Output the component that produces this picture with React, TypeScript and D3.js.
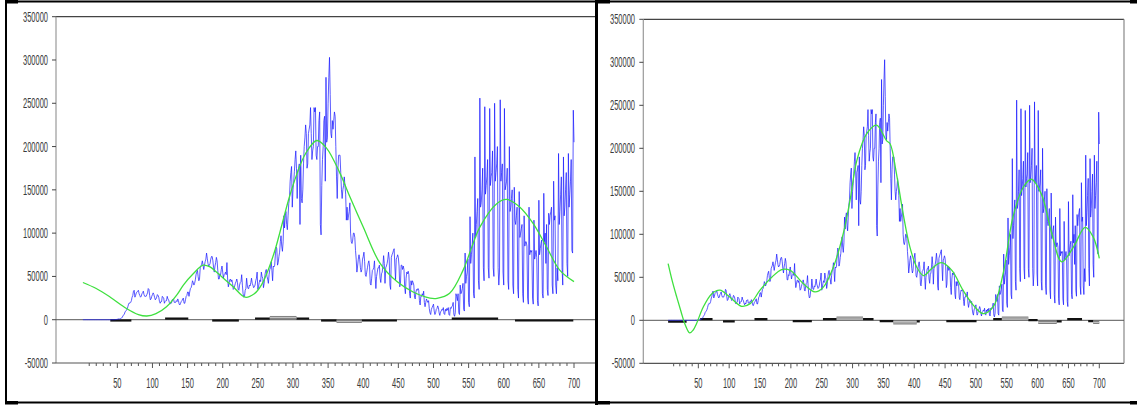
import React from "react";
import * as d3 from "d3";

// ---------- DATA (daily values in thousands, day 1 = first observation) ----------
const casesJanFeb2020 = new Array(39).fill(0);
const casesMar2020 = [0,0,0,0,0,0.1,0.1,0.1,0.2,0.3, 0.5,0.6,1.0,0.8,1.0,1.5,1.9,2.8,4.4,5.5, 6.5,9,10,11,12.5,15,18,19.5,19,20,22];
const casesApr2020 = [26,28,33,34,26,28,31,32,33,34, 30,28,26,27,30,31,33,29,27,27, 27,29,31,36,35,28,23,24,27,29];
const casesMay2020 = [31,29,26,23,24,26,29,28,26,21, 19,21,21,27,26,25,19,21,22,22, 27,24,23,20,18,20,19,23,23,24,20];
const casesJun2020 = [20,20,22,21,24,22,18,17,19,21, 22,24,25,19,19,23,27,28,32,32, 27,32,36,37,40,45,43,40,42,46];
const casesJul2020 = [52,55,57,50,45,47,60,62,64,68, 63,58,63,67,70,77,71,65,62,63, 65,70,73,73,68,60,55,62,66,72,68];
const casesAug2020 = [57,47,47,53,52,58,62,55,48,52, 53,55,52,66,47,38,42,46,47,44, 46,42,35,36,39,42,44,47,43,35,34];
const casesSep2020 = [40,43,44,52,40,30,26,27,34,36, 48,40,36,36,40,39,43,48,42,40, 37,38,40,45,48,55,35,38,43,46];
const casesOct2020 = [44,55,50,48,37,42,51,56,58,50, 47,42,52,58,60,67,57,45,62,61, 63,76,84,82,63,66,73,78,90,97,85];
const casesNov2020 = [79,90,120,106,120,125,110,104,120,134, 140,160,170,177,130,150,159,171,185,195, 175,140,172,175,180,110,190,140,135,150];
const casesDec2020 = [180,200,210,225,215,175,180,215,220,225, 245,215,185,195,200,245,240,245,190,185, 200,200,230,240,110,98,155,185,200,230,235];
const casesJan2021 = [160,280,205,210,250,280,303,260,215,210, 230,220,230,240,235,200,165,140,175,190, 190,190,170,150,140,150,155,165,155,145,115];
const casesFeb2021 = [130,115,120,125,135,100,90,88,92,100, 100,95,80,70,55,62,70,75,70,60, 55,58,70,73,78,67,52,50];
const casesMar2021 = [55,60,65,68,62,42,40,48,57,58, 60,68,50,36,50,55,60,60,63,48, 43,53,55,62,74,65,42,60,62,65,70];
const casesApr2021 = [78,70,40,35,72,75,77,80,82,62, 46,70,72,75,72,62,38,42,63,63, 58,62,58,38,30,48,55,53,56,52];
const casesMay2021 = [30,25,45,40,45,43,40,26,24,32, 35,34,36,34,22,17,27,27,30,28, 33,20,15,20,24,22,20,22,13,8,6];
const casesJun2021 = [12,14,16,18,10,6,8,12,13,16, 14,8,5,9,10,12,11,14,7,6, 12,10,13,11,14,6,5,14,13,15];
const casesJul2021 = [16,20,6,4,8,30,27,22,30,8, 6,40,30,32,36,42,12,10,77,42, 50,55,70,20,15,119,65,75,85,100,30];
const casesAug2021 = [25,188,95,110,125,140,45,35,256,130, 135,150,175,60,45,246,145,155,165,185, 60,48,244,155,165,170,195,60,50,250,160];
const casesSep2021 = [170,180,200,60,40,55,254,160,170,180, 55,40,244,150,155,160,175,45,35,200, 125,130,140,150,40,30,153,115,110,120];
const casesOct2021 = [130,35,25,148,95,100,105,110,30,20, 120,85,90,90,85,25,18,130,75,80, 78,80,25,18,115,70,75,80,72,22,16];
const casesNov2021 = [138,75,82,88,92,30,25,146,90,100, 65,110,35,28,123,110,120,125,130,40, 30,160,115,120,40,30,60,45,192,110];
const casesDec2021 = [125,145,165,60,40,188,120,130,150,170, 65,50,192,130,145,160,185,80,77,242,205];

// smooth fitted curves (control points), values in thousands
const fitLeftDays = [1,20,40,63,80,92,105,120,135,144,158,172,182,191,205,215,232,245,255,265,275,285,295,305,318,334,348,367,381,400,424,448,471,495,505,523,542,555,566,590,604,623,642,661,680,700];
const fitLeftValues = [43,36,26,13,6,4.3,7,15,29,40,53,63,61,55,45,38,26,30,40,58,82,112,142,167,192,207,198,169,142,107,65,44,32,25,24.7,30.5,57,85,107,134,139,130,111,84,57,44];
const fitRightDays = [1,8,15,22,28,36,42,47,58,72,85,101,120,134,150,169,185,199,220,239,252,269,285,296,307,323,339,355,361,371,382,393,404,415,428,444,461,479,496,512,528,544,560,577,590,606,623,639,658,677,690,700];
const fitRightValues = [66,45,27,10,-4,-14.7,-11,-4,15.5,31,35,27,16.3,19.4,35,50,59,58,42.7,33,38,62,101,140,186,217,227,209,205,171,124,85,62,52,60,67,58,35,17.4,7.8,15.5,54,120,155,164,147,101,68,85,108,97,72];

// residual series, as [fromDay, toDay, value in thousands]
const residLeftDark = [[40,70,-0.9],[118,151,1.3],[185,223,-0.9],[246,267,1.3],[305,323,1.3],[340,362,-0.9],[398,448,-0.9],[526,592,1.3],[616,699,-0.9]];
const residLeftGray = [[267,305,2.6],[362,398,-2.0]];
const residRightDark = [[1,31,-1.6],[53,73,1.3],[90,109,-1.2],[141,162,1.3],[203,234,-1.0],[252,274,1.3],[317,334,1.3],[344,366,-1.0],[404,409,-1.2],[452,501,-1.0],[528,542,1.3],[585,600,0.3],[631,639,-1.2],[648,672,1.3],[682,690,-1.0]];
const residRightGray = [[274,317,2.6],[366,404,-3.0],[542,585,2.6],[601,631,-2.5],[690,700,-2.5]];

const yTickValues = [-50000, 0, 50000, 100000, 150000, 200000, 250000, 300000, 350000];
const xLabelValues = [50,100,150,200,250,300,350,400,450,500,550,600,650,700];
const xMinorValues = [10,20,30,40,60,70,80,90,110,120,130,140,160,170,180,190,210,220,230,240,260,270,280,290,310,320,330,340,360,370,380,390,410,420,430,440,460,470,480,490,510,520,530,540,560,570,580,590,610,620,630,640,660,670,680,690];

const dailyK = [].concat(casesJanFeb2020, casesMar2020, casesApr2020, casesMay2020, casesJun2020, casesJul2020, casesAug2020, casesSep2020, casesOct2020, casesNov2020, casesDec2020, casesJan2021, casesFeb2021, casesMar2021, casesApr2021, casesMay2021, casesJun2021, casesJul2021, casesAug2021, casesSep2021, casesOct2021, casesNov2021, casesDec2021);
const caseData = dailyK.map((v, i) => ({ day: i + 1, value: v * 1000 }));

type PanelCfg = {
  x0: number; x700: number; left: number; right: number; top: number; bottom: number;
  labelRight: number; fitDays: number[]; fitValues: number[];
  dark: number[][]; gray: number[][]; drawRight: boolean; clipRight: number; id: string;
};

const panels: PanelCfg[] = [
  { id: "L", x0: 82.2, x700: 574, left: 56, right: 602, clipRight: 596, top: 16.7, bottom: 363, labelRight: 48,
    fitDays: fitLeftDays, fitValues: fitLeftValues, dark: residLeftDark, gray: residLeftGray, drawRight: false },
  { id: "R", x0: 667.5, x700: 1099.3, left: 643.3, right: 1124, clipRight: 1124, top: 19.3, bottom: 363.3, labelRight: 635,
    fitDays: fitRightDays, fitValues: fitRightValues, dark: residRightDark, gray: residRightGray, drawRight: true },
];

const FONT = "'Liberation Sans', Arial, sans-serif";

function Panel({ p }: { p: PanelCfg }) {
  const x = d3.scaleLinear().domain([0, 700]).range([p.x0, p.x700]);
  const y = d3.scaleLinear().domain([-50000, 350000]).range([p.bottom, p.top]);
  const blueLine = d3.line<{ day: number; value: number }>().x(d => x(d.day)).y(d => y(d.value));
  const fitPts = p.fitDays.map((d, i) => [d, p.fitValues[i] * 1000]);
  const greenLine = d3.line<number[]>().x(d => x(d[0])).y(d => y(d[1])).curve(d3.curveCatmullRom.alpha(0.5));
  const segLine = (s: number[]) => `M${x(s[0])},${y(s[2] * 1000)}L${x(s[1])},${y(s[2] * 1000)}`;
  const rightEdge = Math.min(p.right, p.clipRight);
  return (
    <g>
      <defs>
        <clipPath id={`clip${p.id}`}>
          <rect x={p.left} y={p.top - 2} width={rightEdge - p.left} height={p.bottom - p.top + 4} />
        </clipPath>
      </defs>
      {/* frame */}
      <line x1={p.left} x2={rightEdge} y1={p.top} y2={p.top} stroke="#444" strokeWidth={1.2} />
      <line x1={p.left} x2={p.left} y1={p.top} y2={p.bottom} stroke="#999" strokeWidth={1.2} />
      <line x1={p.left} x2={rightEdge} y1={p.bottom} y2={p.bottom} stroke="#555" strokeWidth={1.2} />
      {p.drawRight && <line x1={p.right} x2={p.right} y1={p.top} y2={p.bottom} stroke="#888" strokeWidth={1.2} />}
      {/* zero line */}
      <line x1={p.left} x2={p.drawRight ? p.right : 597} y1={y(0)} y2={y(0)} stroke="#555" strokeWidth={1} />
      {/* y ticks */}
      {yTickValues.map(v => (
        <g key={v}>
          <line x1={p.left - 4} x2={p.left} y1={y(v)} y2={y(v)} stroke="#444" strokeWidth={1} />
          <text transform={`translate(${p.labelRight},${y(v) + 5}) scale(0.5,1)`} textAnchor="end"
            style={{ fontFamily: FONT, fontSize: 15, fill: "#3a3a3a" }}>{v}</text>
        </g>
      ))}
      {/* x ticks */}
      {xMinorValues.map(v => (
        <line key={"m" + v} x1={x(v)} x2={x(v)} y1={p.bottom} y2={p.bottom + 3} stroke="#555" strokeWidth={1} />
      ))}
      {xLabelValues.map(v => (
        <g key={"l" + v}>
          <line x1={x(v)} x2={x(v)} y1={p.bottom} y2={p.bottom + 5} stroke="#555" strokeWidth={1} />
          <text transform={`translate(${x(v)},${p.bottom + 25}) scale(0.5,1)`} textAnchor="middle"
            style={{ fontFamily: FONT, fontSize: 15, fill: "#3a3a3a" }}>{v}</text>
        </g>
      ))}
      <g clipPath={`url(#clip${p.id})`}>
        {p.gray.map((s, i) => (
          <g key={"g" + i}>
            <path d={segLine(s)} stroke="#808080" strokeWidth={3} fill="none" />
            <path d={segLine(s)} stroke="#c4c4c4" strokeWidth={1} fill="none" />
          </g>
        ))}
        {p.dark.map((s, i) => (
          <path key={"d" + i} d={segLine(s)} stroke="#111" strokeWidth={2.2} fill="none" />
        ))}
        <path d={blueLine(caseData) || ""} stroke="#1c1cff" strokeWidth={1} strokeOpacity={0.72} fill="none" />
        <path d={greenLine(fitPts) || ""} stroke="#3fe03f" strokeWidth={1.3} fill="none" />
      </g>
    </g>
  );
}

export default function App() {
  return (
    <svg width={1137} height={405} style={{ position: "absolute", left: 0, top: 0, background: "#fff" }}>
      <rect x={0} y={0} width={1137} height={405} fill="#fff" />
      {panels.map(p => <Panel key={p.id} p={p} />)}
      {/* outer borders */}
      <line x1={5} x2={1131} y1={1.5} y2={1.5} stroke="#000" strokeWidth={2} />
      <line x1={5} x2={1131} y1={402.5} y2={402.5} stroke="#000" strokeWidth={2} />
      <line x1={6} x2={6} y1={0} y2={404} stroke="#000" strokeWidth={2} />
      <line x1={596.5} x2={596.5} y1={0} y2={405} stroke="#000" strokeWidth={3} />
      <rect x={5} y={0} width={13} height={3.5} fill="#000" />
      <rect x={5} y={401} width={13} height={3.5} fill="#000" />
      <rect x={597} y={0} width={13} height={3.5} fill="#000" />
      <rect x={597} y={401} width={13} height={3.5} fill="#000" />
      <rect x={1130} y={0} width={7} height={3.5} fill="#000" />
      <rect x={1130} y={401} width={7} height={3.5} fill="#000" />
    </svg>
  );
}
